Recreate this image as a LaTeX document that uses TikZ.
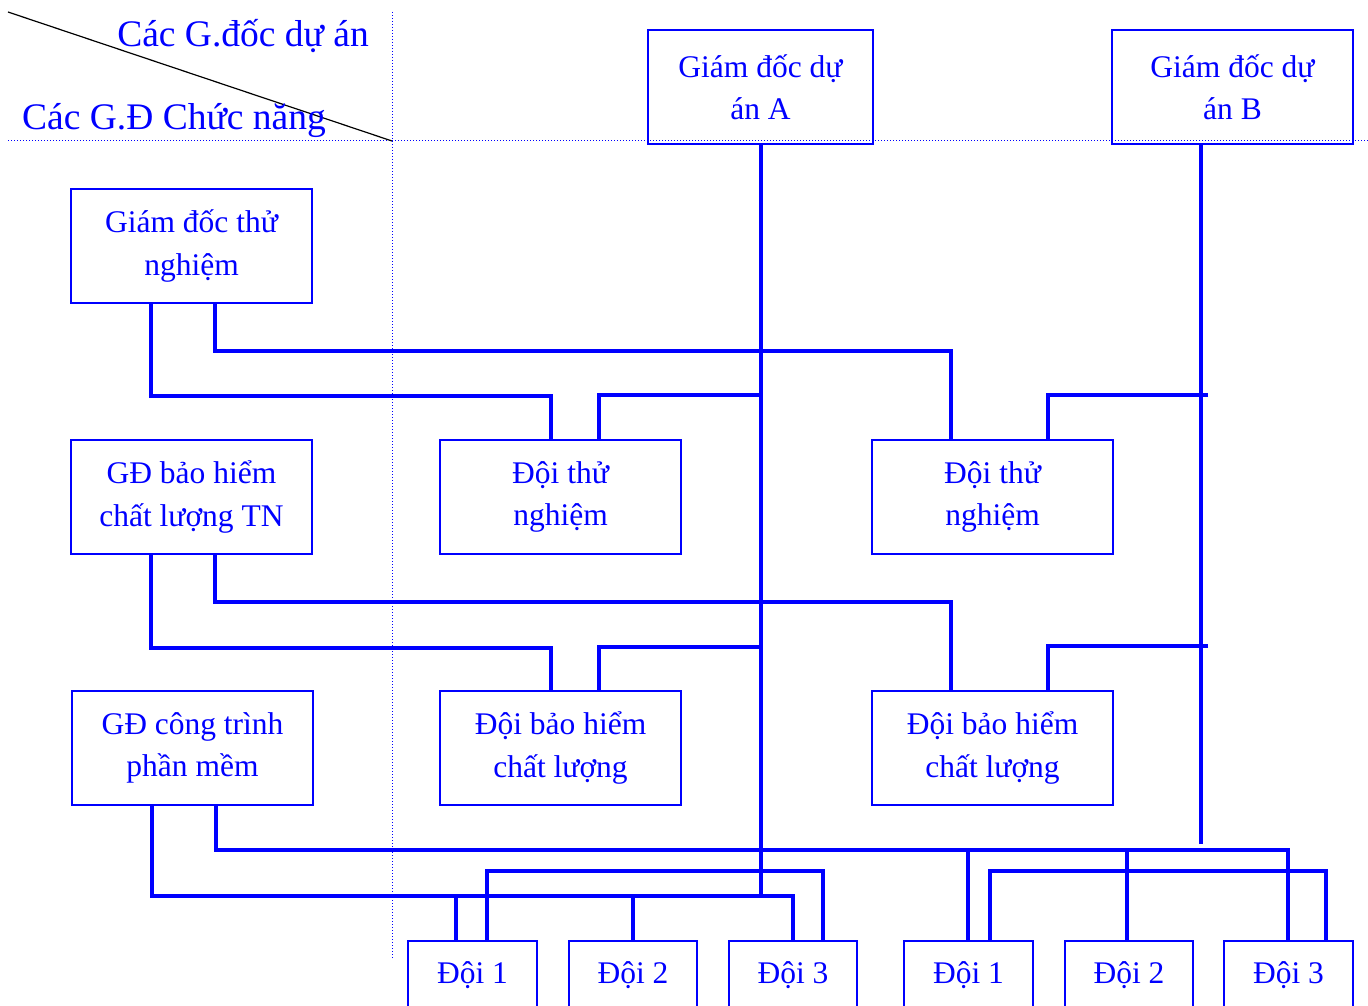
\documentclass[tikz,border=0pt]{standalone}
\usepackage{fontspec}
\setmainfont{Liberation Serif}
\begin{document}
\begin{tikzpicture}[x=1pt,y=-1pt,
  box/.style={draw=blue, line width=1.6pt, text=blue, align=center, inner sep=0pt,
              minimum height=114pt, font=\fontsize{31.5}{42.5}\selectfont},
  team/.style={box, minimum width=128.5pt, minimum height=68pt},
  link/.style={draw=blue, line width=4pt},
  guide/.style={draw=blue, line width=1pt, dotted},
  head/.style={text=blue, inner sep=0pt, font=\fontsize{37.5}{40}\selectfont}]
\useasboundingbox (0,0) rectangle (1368,1006);

% corner header
\coordinate (diagTop) at (8,12);
\coordinate (diagBot) at (392,141);
\draw[guide] (8,141) -- (1368,141);
\draw[guide] (392,12) -- (392,958);
\draw[black, line width=1.2pt] (diagTop) -- (diagBot);
\node[head] (hdrPD) at (243,36) {Các G.đốc dự án};
\node[head] (hdrCN) at (174,121) {Các G.Đ Chức năng};

% project directors
\node[box, minimum width=225pt] (pdA) at (760.5,87) {Giám đốc dự\\án A};
\node[box, minimum width=241pt] (pdB) at (1232.5,87) {Giám đốc dự\\án B};

% functional directors
\node[box, minimum width=241pt] (gdTN) at (191.5,246) {Giám đốc thử\\nghiệm};
\node[box, minimum width=241pt] (gdBH) at (191.5,497) {GĐ bảo hiểm\\chất lượng TN};
\node[box, minimum width=241pt] (gdCT) at (192.5,748) {GĐ công trình\\phần mềm};

% teams
\node[box, minimum width=241pt] (tnA) at (560.5,497) {Đội thử\\nghiệm};
\node[box, minimum width=241pt] (tnB) at (992.5,497) {Đội thử\\nghiệm};
\node[box, minimum width=241pt] (bhA) at (560.5,748) {Đội bảo hiểm\\chất lượng};
\node[box, minimum width=241pt] (bhB) at (992.5,748) {Đội bảo hiểm\\chất lượng};

\node[team] (d1A) at (472.5,975) {Đội 1};
\node[team] (d2A) at (633,975) {Đội 2};
\node[team] (d3A) at (793,975) {Đội 3};
\node[team] (d1B) at (968.5,975) {Đội 1};
\node[team] (d2B) at (1129,975) {Đội 2};
\node[team] (d3B) at (1288.5,975) {Đội 3};

% bus levels
\coordinate (yTNa) at (0,395);
\coordinate (yBHa) at (0,647);
\coordinate (bTN) at (1208,395);
\coordinate (bBH) at (1208,646);

% project director verticals
\draw[link] (pdA.south) -- ++(0,749);
\draw[link] ([xshift=90pt]pdB.south west) -- ++(0,699);

% testing
\draw[link] ([xshift=81pt]gdTN.south west) -- ++(0,92) -| ([xshift=112pt]tnA.north west);
\draw[link] ([xshift=145pt]gdTN.south west) -- ++(0,47) -| ([xshift=80pt]tnB.north west);
\draw[link] (pdA.south |- yTNa) -| ([xshift=160pt]tnA.north west);
\draw[link] (bTN) -| ([xshift=177pt]tnB.north west);

% quality assurance
\draw[link] ([xshift=81pt]gdBH.south west) -- ++(0,93) -| ([xshift=112pt]bhA.north west);
\draw[link] ([xshift=145pt]gdBH.south west) -- ++(0,47) -| ([xshift=80pt]bhB.north west);
\draw[link] (pdA.south |- yBHa) -| ([xshift=160pt]bhA.north west);
\draw[link] (bBH) -| ([xshift=177pt]bhB.north west);

% software engineering, project A side
\draw[link] ([xshift=81pt]gdCT.south west) -- ++(0,90) -| (d3A.north);
\draw[link] ([xshift=49pt]d1A.north west) -- ++(0,-46);
\draw[link] (d2A.north) -- ++(0,-46);
\draw[link] ([xshift=80pt]d1A.north west) -- ++(0,-69) -| ([xshift=95pt]d3A.north west);

% software engineering, project B side
\draw[link] ([xshift=145pt]gdCT.south west) -- ++(0,44) -| ([xshift=65pt]d3B.north west);
\draw[link] ([xshift=65pt]d1B.north west) -- ++(0,-92);
\draw[link] ([xshift=63pt]d2B.north west) -- ++(0,-92);
\draw[link] ([xshift=87pt]d1B.north west) -- ++(0,-69) -| ([xshift=103pt]d3B.north west);
\end{tikzpicture}
\end{document}
